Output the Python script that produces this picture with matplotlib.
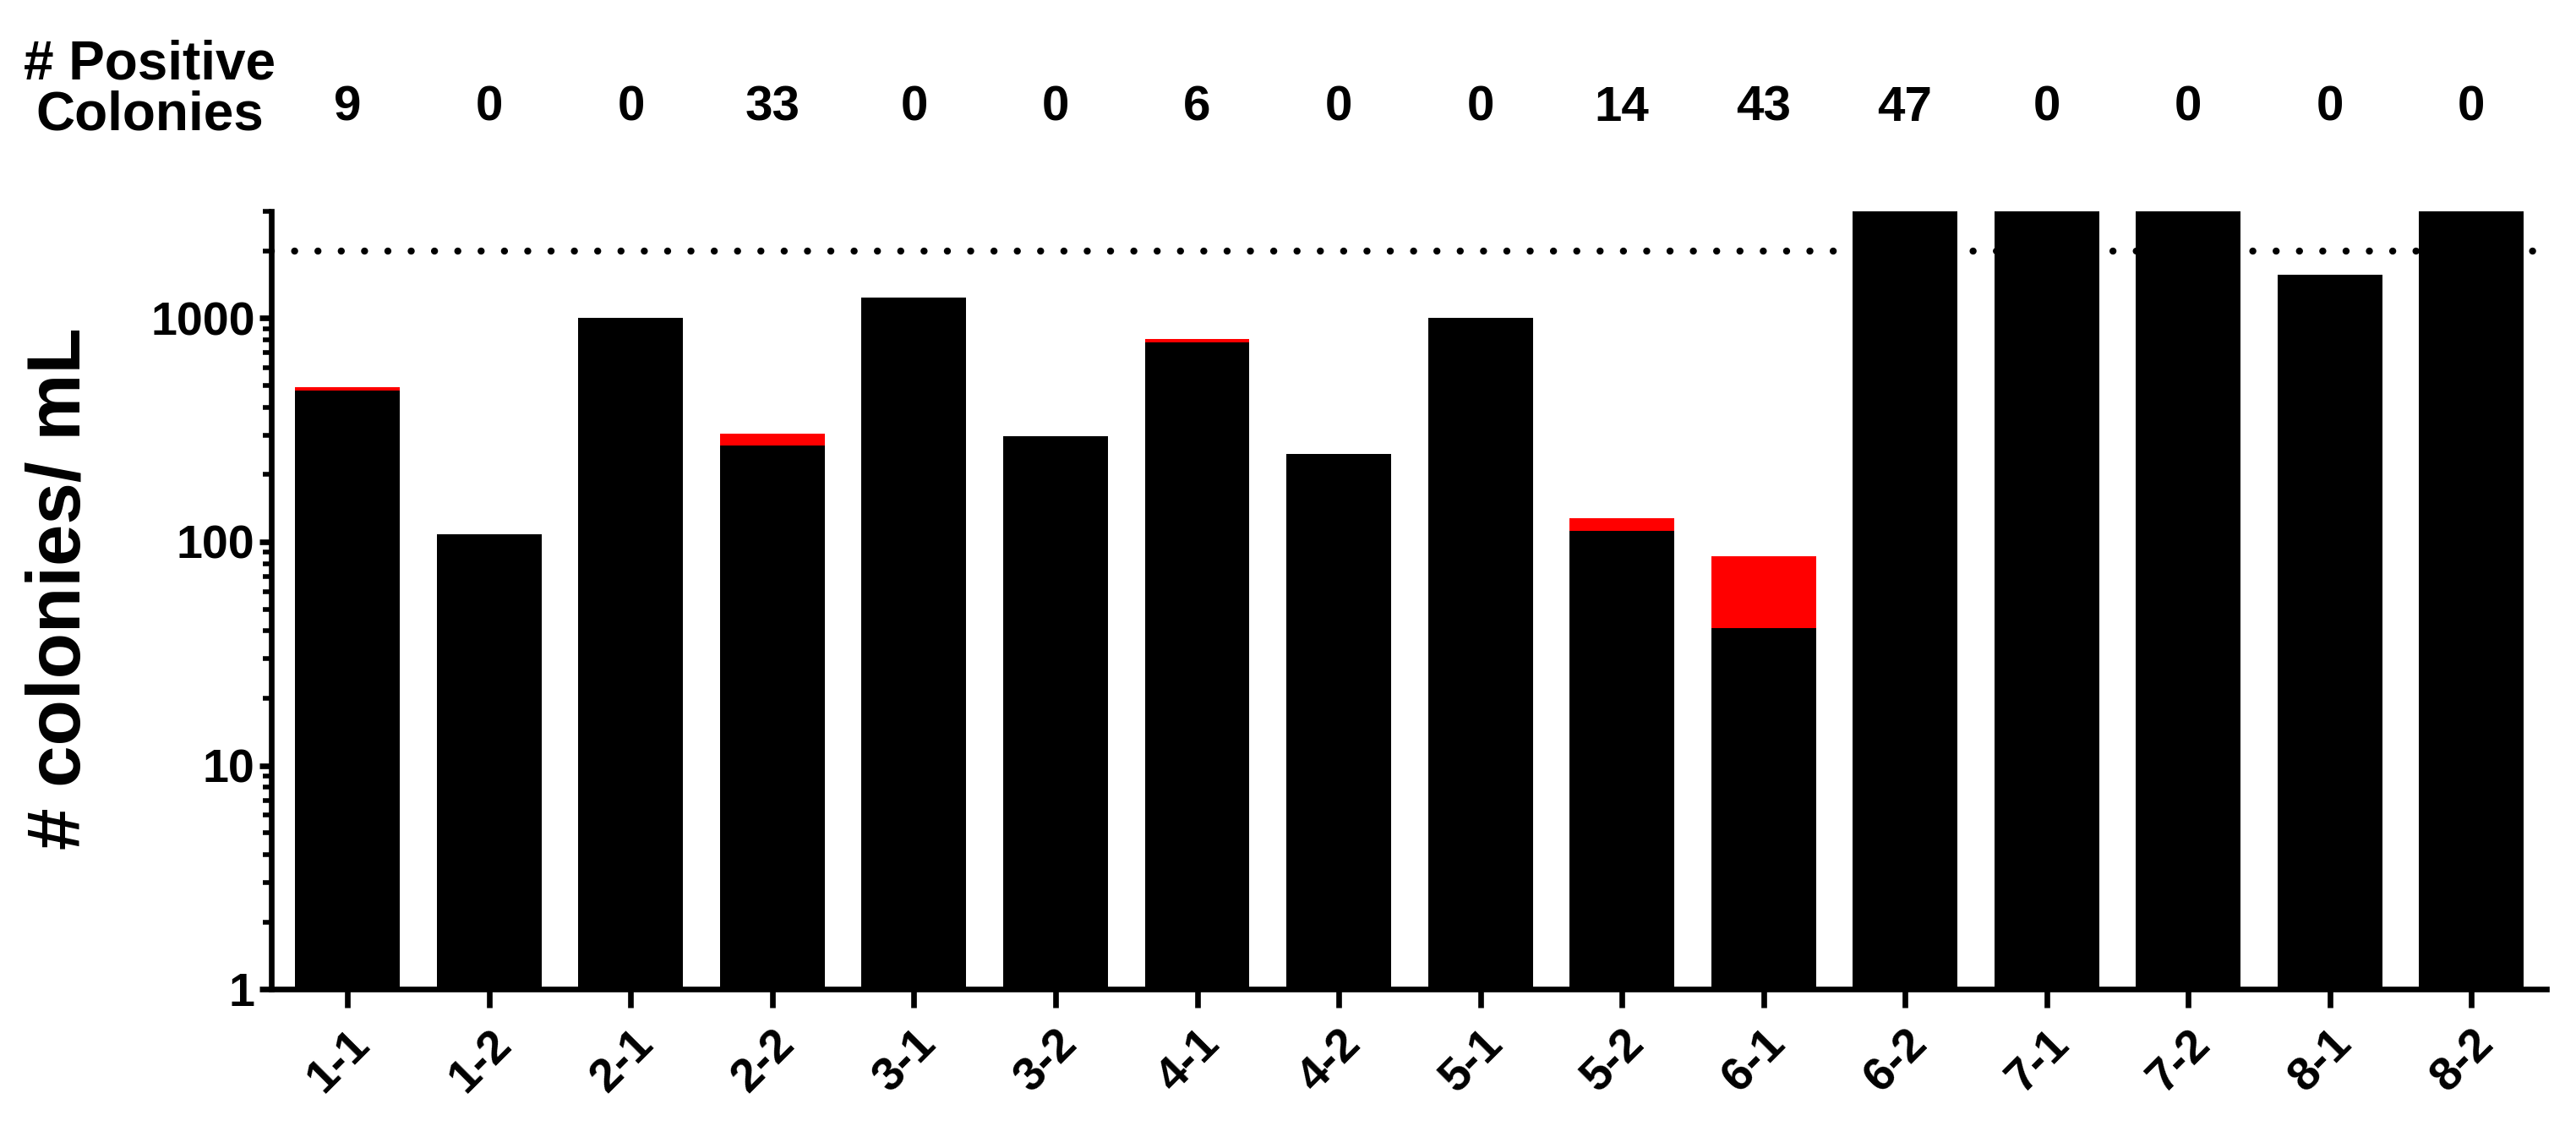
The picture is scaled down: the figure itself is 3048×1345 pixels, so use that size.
import matplotlib
matplotlib.use("Agg")
import matplotlib.pyplot as plt
from matplotlib.ticker import LogLocator, FixedLocator, NullFormatter
import numpy as np

plt.rcParams['font.family'] = ['Liberation Sans', 'DejaVu Sans']
plt.rcParams['font.weight'] = 'bold'

samples = ['1-1', '1-2', '2-1', '2-2', '3-1', '3-2', '4-1', '4-2',
           '5-1', '5-2', '6-1', '6-2', '7-1', '7-2', '8-1', '8-2']
positive_colonies = [9, 0, 0, 33, 0, 0, 6, 0, 0, 14, 43, 47, 0, 0, 0, 0]
black_values = [475, 108, 1000, 270, 1240, 297, 782, 248,
                1000, 112, 41, 3000, 3000, 3000, 1560, 3000]
red_values = [15, 0, 0, 35, 0, 0, 23, 0, 0, 16, 45, 0, 0, 0, 0, 0]
threshold = 2000
y_ticks = [1, 10, 100, 1000]

fig = plt.figure(figsize=(15.24, 6.725), dpi=200)
ax = fig.add_axes([0.1053, 0.130, 0.8832, 0.684])

x = np.arange(len(samples))
ax.set_yscale('log')
ax.bar(x, black_values, width=0.74, color='black', zorder=3)
ax.bar(x, red_values, width=0.74, bottom=black_values, color='#ff0000', zorder=3)
ax.axhline(threshold, color='black', lw=3.0, linestyle=(0, (0.01, 3.3)),
           dash_capstyle='round', zorder=1)

ax.set_ylim(1, 3000)
ax.set_xlim(-0.54, 15.53)

for s in ['top', 'right']:
    ax.spines[s].set_visible(False)
for s in ['left', 'bottom']:
    ax.spines[s].set_linewidth(2.4)

ax.yaxis.set_major_locator(FixedLocator(y_ticks))
ax.set_yticklabels([str(t) for t in y_ticks])
ax.yaxis.set_minor_locator(LogLocator(base=10, subs=np.arange(2, 10)))
ax.yaxis.set_minor_formatter(NullFormatter())
ax.tick_params(axis='y', which='major', length=5, width=2.4, labelsize=20, pad=2)
ax.tick_params(axis='y', which='minor', length=3.5, width=2.0)

ax.set_xticks(x)
ax.set_xticklabels(samples, rotation=45, ha='right', rotation_mode='anchor',
                   fontsize=20, fontweight='bold')
ax.tick_params(axis='x', which='major', length=8, width=2.4, pad=6)
ax.tick_params(axis='x', which='minor', length=0)

ax.set_ylabel('# colonies/ mL', fontsize=32, fontweight='bold')
ax.yaxis.set_label_coords(-0.077, 0.515)

trans = matplotlib.transforms.blended_transform_factory(ax.transData, fig.transFigure)
for xi, n in zip(x, positive_colonies):
    ax.text(xi, 0.905, str(n), transform=trans, ha='center', va='center',
            fontsize=21, fontweight='bold', clip_on=False)
fig.text(0.058, 0.921, '# Positive\nColonies', ha='center', va='center',
         multialignment='center', fontsize=23, fontweight='bold', linespacing=1.0)

fig.savefig('out.png', dpi=200)
